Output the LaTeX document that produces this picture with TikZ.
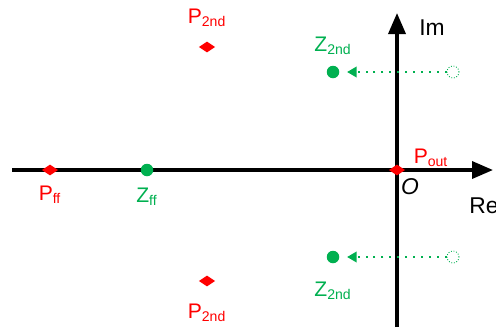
\documentclass[tikz,border=0pt]{standalone}
\usepackage{fontspec}
\setmainfont{Liberation Sans}
\usetikzlibrary{arrows.meta,shapes.geometric}
\definecolor{PoleRed}{HTML}{FF0000}
\definecolor{ZeroGreen}{HTML}{00B050}
\tikzset{
  axis/.style={draw=black,line width=2pt,-{Triangle[length=4.2mm,width=3.4mm]}},
  pole/.style={diamond,fill=PoleRed,inner sep=0pt,minimum width=3.3mm,minimum height=2.2mm},
  zero/.style={circle,fill=ZeroGreen,inner sep=0pt,minimum size=2.5mm},
  ghost/.style={circle,draw=ZeroGreen,densely dotted,line width=.5pt,inner sep=0pt,minimum size=2.4mm},
  zeroshift/.style={draw=ZeroGreen,line width=1.1pt,dash pattern=on 1.1pt off 3.4pt,-{Triangle[length=1.9mm,width=2.1mm]},shorten >=1.5mm},
  plab/.style={text=PoleRed,font=\fontsize{12}{14}\selectfont},
  zlab/.style={text=ZeroGreen,font=\fontsize{12}{14}\selectfont},
  axlab/.style={text=black,font=\fontsize{13}{15}\selectfont}
}
\begin{document}
\begin{tikzpicture}[x=0.02cm,y=-0.02cm]
  \useasboundingbox (0,0) rectangle (496,332);
  % axes
  \coordinate (O) at (397,170);
  \coordinate (reL) at (12,170);
  \coordinate (reR) at (493,170);
  \coordinate (imB) at (397,327);
  \coordinate (imT) at (397,13);
  \draw[axis] (reL) -- (reR);
  \draw[axis] (imB) -- (imT);
  \node[axlab] (im) at (432,28) {Im};
  \node[axlab] (re) at (484,206) {Re};
  \node[axlab,font=\fontsize{13}{15}\selectfont\itshape] (orig) at (410,187) {O};
  % poles
  \node[pole] (pout) at (O) {};
  \node[plab] (poutlab) at (431,158) {P\textsubscript{out}};
  \node[pole] (pff) at (50,170) {};
  \node[plab] (pfflab) at (50,195) {P\textsubscript{ff}};
  \node[pole] (p2u) at (207,47) {};
  \node[plab] (p2ulab) at (207,18) {P\textsubscript{2nd}};
  \node[pole] (p2d) at (207,281) {};
  \node[plab] (p2dlab) at (207,313) {P\textsubscript{2nd}};
  % zeros
  \node[zero] (zff) at (147,170) {};
  \node[zlab] (zfflab) at (147,197) {Z\textsubscript{ff}};
  \node[zero] (z2u) at (333,72) {};
  \node[zlab] (z2ulab) at (333,46) {Z\textsubscript{2nd}};
  \node[zero] (z2d) at (333,257) {};
  \node[zlab] (z2dlab) at (333,291) {Z\textsubscript{2nd}};
  % zero shift
  \node[ghost] (g2u) at (453,72) {};
  \node[ghost] (g2d) at (453,257) {};
  \draw[zeroshift] (g2u) -- (z2u);
  \draw[zeroshift] (g2d) -- (z2d);
\end{tikzpicture}
\end{document}
